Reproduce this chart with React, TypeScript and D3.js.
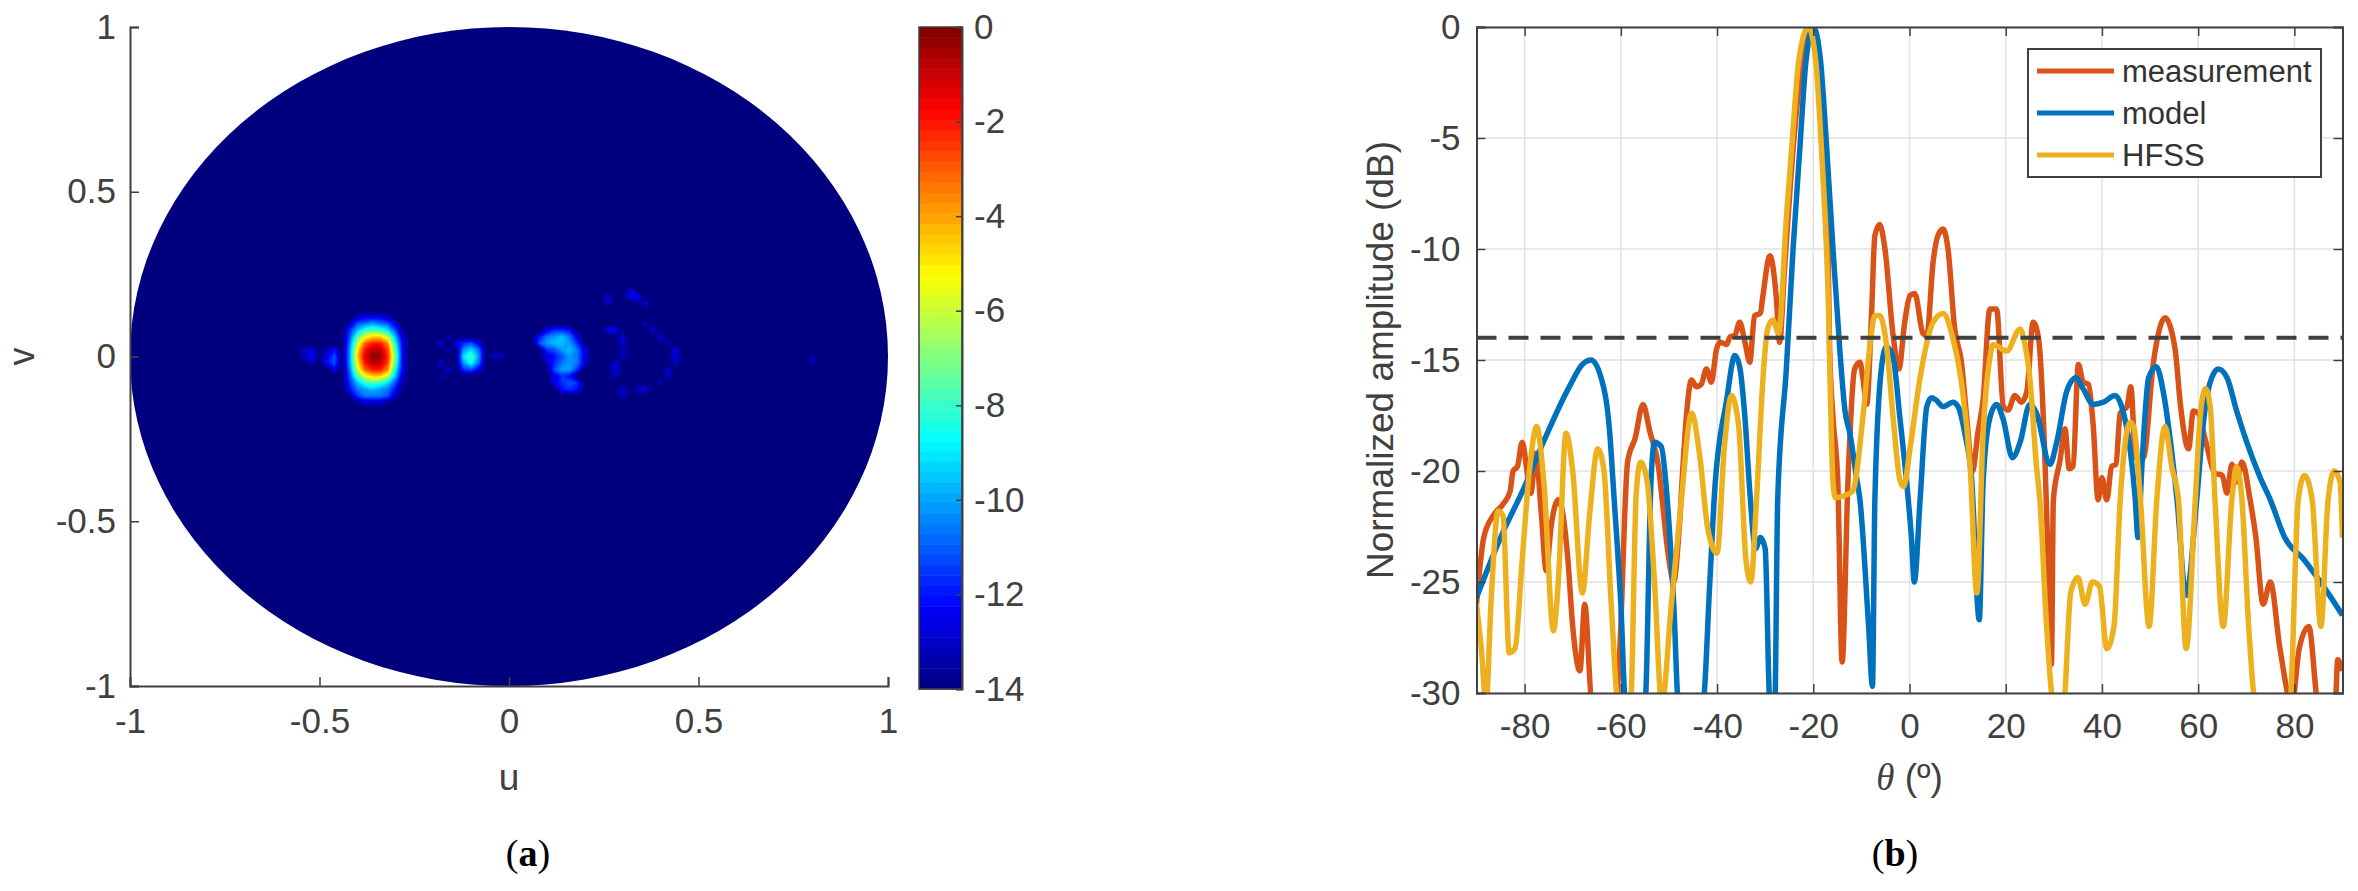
import React, { useEffect, useRef } from 'react';
import * as d3 from 'd3';

// pattern cuts: theta (deg), amplitude (dB)
const measurement: [number, number][] = [
  [-90, -26], [-88.5, -23], [-86.5, -22], [-84.5, -21.5], [-83, -20.9], [-82.4, -20], [-81.5, -19.8], [-80.5, -18.7], [-79.5, -20], [-78.7, -21], [-77.7, -19.2], [-76.5, -22], [-75.5, -24.5], [-74.5, -22.5], [-73, -21.3], [-72, -22], [-71, -24], [-70, -27], [-68.5, -29], [-67.5, -26], [-66, -30.5],
  [-61.5, -31], [-60, -27], [-59.2, -22], [-58.6, -19.6], [-57, -18.5], [-55.4, -17], [-54, -18.2], [-52, -20.1], [-51.6, -20.9], [-50, -24], [-49, -25], [-48, -23], [-47, -19.5], [-46.4, -17.6], [-45.3, -15.9], [-44.3, -16.2], [-43.3, -16.1], [-42.2, -15.4], [-41.2, -16], [-40.1, -14.5], [-39.4, -14.2], [-38, -14.3], [-37.3, -13.95], [-36.3, -13.9], [-35.3, -13.3], [-34.2, -14.2], [-33.2, -15.1], [-32.2, -13], [-31, -12.9], [-30.5, -12.15], [-29, -10.3], [-27.7, -12.15], [-27, -14.2],
  [-26, -11], [-24, -5], [-22, -1], [-20.5, 0], [-19, -1], [-18, -4], [-17, -9], [-16.6, -14.5], [-15.9, -17.6], [-14.9, -20.5], [-14, -28.6], [-12.8, -20.5], [-11.4, -15.4], [-10.3, -15.1], [-9.7, -15.8], [-8.9, -17], [-7.9, -13], [-7.2, -9.4], [-6.2, -8.9], [-5.1, -10], [-3.4, -13.9], [-2.2, -15.4], [-1, -13.3], [0.1, -12.1], [1.1, -12], [2.8, -13.8], [3.6, -13.9], [4.9, -10.6], [5.9, -9.4], [7, -9.1], [8, -10], [9.4, -13.6], [10.8, -15.1], [11.9, -17.6], [13.1, -20], [14.2, -18.3], [15.3, -16.8], [16.7, -12.7], [18.1, -12.7], [19.5, -17.1], [20.5, -17.25], [21.9, -16.6], [23.3, -16.9], [24.4, -16.4], [25.7, -13.3], [26.8, -14], [28.2, -19.8], [28.8, -24], [29.5, -28.7], [29.9, -21.3], [31.3, -19.5], [32.3, -18.1], [33.2, -19.9], [34, -19.8], [35.1, -15.2], [36.1, -16], [37.2, -16.1], [38.2, -18], [39.2, -21.3], [40, -20.3], [41, -21.3], [42, -19.8], [42.9, -19.7], [43.8, -17.4], [45.2, -17.1], [46, -16.2], [47, -19.4], [48.6, -19.4], [50.7, -15.1], [53.1, -13.1], [55.2, -14.5], [56.3, -17], [58, -19], [59, -17.3], [60, -17.4], [61.5, -18.6], [63.5, -20.1], [65, -20.2], [66, -21], [67, -19.7], [68, -20.5], [69.1, -19.6], [70.8, -21.3], [72, -23], [73.5, -26], [75, -25], [77, -28], [79.5, -30.5], [81, -28], [83, -27], [85, -30.5], [88.5, -30.5], [89, -28.5], [90, -29],
];
const model: [number, number][] = [
  [-90, -25.7], [-85, -23], [-80, -20.7], [-75.9, -18.6], [-70.7, -16.2], [-68, -15.2], [-66.2, -15], [-64.1, -15.8], [-62.3, -18.3], [-61.5, -20.9], [-60, -26], [-59, -30.5], [-55, -30.5], [-53.7, -20.3], [-53, -18.7], [-51.6, -18.9], [-50.5, -20.9], [-49, -26], [-48, -30.5], [-43, -30.5], [-41.5, -25], [-40.5, -20.9], [-38, -16.8], [-36.3, -14.8], [-35.3, -15.3], [-34.2, -17.6], [-33.2, -20.9], [-32, -23.5], [-31, -23], [-30, -23.5], [-29, -30.5], [-28, -30.5], [-27.4, -21.3], [-25.6, -15.4], [-24.2, -10], [-22.8, -5.5], [-21.5, -1.5], [-20, 0], [-18.5, -1.5], [-17.2, -5.5], [-15.9, -10], [-14.5, -14.5], [-13.4, -17.3], [-12.4, -18.3], [-11, -20.3], [-10.3, -21.3], [-8.5, -27], [-7.7, -29.7], [-7.2, -21.3], [-5.8, -15.3], [-4.8, -14.4], [-3.4, -14.9], [-2, -17.6], [-0.6, -20.5], [0.4, -23], [1, -25], [2.2, -21.3], [3.6, -17.1], [4.6, -16.7], [5.5, -16.8], [7, -17.1], [9, -16.9], [10.1, -17.1], [11.5, -18.3], [12.9, -20.3], [14.5, -26.7], [15.3, -20.5], [16.7, -17.6], [18.1, -17], [19.5, -17.7], [21.4, -19.4], [23, -18.7], [25, -17], [26.4, -17.4], [29.2, -19.7], [30.6, -18.7], [32.7, -16.4], [34.6, -15.8], [36.1, -16.3], [38.2, -17], [40.3, -16.9], [42.7, -16.6], [44.1, -17.1], [45.9, -19.1], [46.9, -21.2], [47.5, -23], [48.3, -19.8], [49.7, -15.8], [51.3, -15.3], [52.8, -16.5], [54.2, -18.6], [55.6, -21.3], [57.5, -25.6], [59.7, -21.3], [61.1, -17.8], [62.5, -16], [64.2, -15.4], [66, -15.8], [68, -17.3], [70.1, -18.7], [72.9, -20.3], [75, -21.3], [78, -23], [82, -24], [87, -25.5], [90, -26.5],
];
const hfss: [number, number][] = [
  [-90, -26], [-89, -28], [-88, -30.5], [-87, -26], [-85.5, -21.8], [-84.5, -22], [-83.2, -28.2], [-82, -28], [-80.5, -24], [-79, -20], [-77.5, -18], [-76, -20.5], [-74, -27.2], [-73, -25], [-71.4, -18.3], [-70, -20], [-68, -25.5], [-66.5, -22], [-64.8, -19], [-63.5, -20], [-62, -26], [-60.5, -30.5], [-58, -30.5], [-56.8, -21], [-55.9, -19.6], [-54.5, -20.5], [-53, -25], [-51.5, -30.5], [-49.5, -26], [-47.5, -21.5], [-45.3, -17.4], [-43.5, -19.5], [-42, -22.5], [-40, -23.7], [-38.5, -19], [-37, -16.6], [-35.5, -18], [-34, -24], [-33, -25], [-31.8, -21.3], [-30.5, -16], [-29.5, -13.6], [-28.4, -13.2], [-27.2, -13.8], [-25.6, -8.6], [-24.5, -5.5], [-23, -1.5], [-21, 0], [-19.5, -1.5], [-18.3, -5.5], [-17, -11.5], [-15.9, -20.5], [-15.4, -21.2], [-13.4, -21.1], [-11.8, -20.9], [-9.7, -17.6], [-8.2, -14.3], [-7.2, -13], [-6.2, -13], [-4.8, -14.3], [-3.4, -17.6], [-2, -20.4], [-1.2, -20.7], [0.1, -19], [2.2, -15.8], [4.9, -13.3], [7, -12.9], [9, -14], [10.8, -16], [12.6, -19.8], [14, -25.5], [15.3, -18.3], [16.7, -14.9], [17.4, -14.3], [20.2, -14.6], [23, -13.6], [24, -14.3], [25, -15.8], [26.4, -19.8], [27.1, -21.3], [28.5, -27], [30, -30.5], [32, -30.5], [33.5, -25.5], [35, -24.8], [36.5, -26], [38, -25], [39.5, -25.2], [41, -28], [42.5, -27], [43.8, -21.3], [45.9, -17.8], [46.6, -18], [48, -21.3], [49.8, -27], [51.4, -21.3], [53.1, -18], [54.5, -19.8], [55.9, -21.3], [57.5, -28], [59.4, -21.3], [60.4, -17.6], [61.5, -16.3], [62.5, -17.1], [63.5, -21.3], [65.2, -27], [67, -21.3], [68, -19.8], [69.1, -21.3], [70.5, -27], [72, -30.5], [79, -30.5], [80.8, -21.3], [82.1, -20.2], [83.7, -21.3], [85.5, -27], [87, -21.3], [88.3, -20], [89.5, -20.5], [90, -23],
];

const thetaTicks = [-80, -60, -40, -20, 0, 20, 40, 60, 80];
const ampTicks = [0, -5, -10, -15, -20, -25, -30];
const uvTicks = [-1, -0.5, 0, 0.5, 1];
const barTicks = [0, -2, -4, -6, -8, -10, -12, -14];
const threshold = -14;
const seriesNames = ['measurement', 'model', 'HFSS'];
const seriesColors = ['#d95319', '#0072bd', '#edb120'];

// grid of the visible lobes, in dB; all other cells sit at the floor
const gridU = d3.range(-0.56, 0.86, 0.02);
const gridV = d3.range(0.22, -0.22, -0.02);
// main lobe rows, columns at mainU
const mainU = [-0.42, -0.4, -0.38, -0.36, -0.34, -0.32, -0.3, -0.28];
const mainRows: [number, number[]][] = [
  [0.12, [-14, -13, -12.5, -12.5, -12.5, -13, -14, -14]],
  [0.1, [-13, -11, -10.5, -10, -10.5, -11, -12.5, -14]],
  [0.08, [-11.5, -9.5, -8, -7.5, -8, -9, -11, -13.5]],
  [0.06, [-11, -7.5, -5.5, -4.5, -4.5, -6, -9.5, -13]],
  [0.04, [-10.5, -6, -3, -2, -2, -3.5, -8.5, -12.5]],
  [0.02, [-10, -5, -1.8, -0.7, -0.7, -2.5, -7.5, -12.5]],
  [0, [-10, -4.5, -1.2, -0.1, -0.3, -2.2, -7, -12.5]],
  [-0.02, [-10, -5, -1.8, -0.7, -0.7, -2.5, -7.5, -12.5]],
  [-0.04, [-10.5, -6, -3, -2, -2, -3.5, -8.5, -12.5]],
  [-0.06, [-11, -7.5, -5.5, -4.5, -4.5, -6, -9.5, -13]],
  [-0.08, [-11.5, -9.5, -8, -7.5, -8, -9, -11, -13.5]],
  [-0.1, [-12, -10.5, -10, -9.5, -10, -10.5, -12, -14]],
  [-0.12, [-13.5, -11.5, -10.5, -10.5, -10.5, -11, -13, -14]],
  [-0.14, [-14, -13.5, -13, -13, -13, -13.5, -14, -14]],
];
// [u, v, dB] for the smaller lobes
const sideCells: [number, number, number][] = [
  [-0.54, 0.02, -13], [-0.52, 0.02, -12.5], [-0.52, 0, -12], [-0.54, 0, -13], [-0.52, -0.02, -13], [-0.48, 0.02, -13], [-0.46, 0.02, -12], [-0.46, 0, -11], [-0.46, -0.02, -11], [-0.48, 0, -12.5], [-0.48, -0.02, -12], [-0.46, -0.04, -12.5],
  [-0.14, 0.04, -12.5], [-0.12, 0.04, -11.5], [-0.1, 0.04, -11], [-0.08, 0.04, -12.5], [-0.12, 0.02, -10], [-0.1, 0.02, -9], [-0.08, 0.02, -10.5], [-0.12, 0, -9], [-0.1, 0, -7.5], [-0.08, 0, -10], [-0.12, -0.02, -10], [-0.1, -0.02, -8.5], [-0.08, -0.02, -10.5], [-0.12, -0.04, -11.5], [-0.1, -0.04, -11], [-0.08, -0.04, -12.5],
  [-0.18, 0.04, -12.5], [-0.16, 0.06, -13], [-0.16, 0.02, -13], [-0.18, -0.02, -12.5], [-0.16, -0.04, -12.5], [-0.18, -0.06, -13],
  [-0.02, 0, -13], [-0.04, 0, -13],
  [0.1, 0.08, -12.5], [0.12, 0.08, -11.5], [0.14, 0.08, -11.5], [0.16, 0.08, -12],
  [0.08, 0.06, -12], [0.1, 0.06, -10.5], [0.12, 0.06, -10], [0.14, 0.06, -9.5], [0.16, 0.06, -10.5], [0.18, 0.06, -12.5],
  [0.08, 0.04, -11], [0.1, 0.04, -10], [0.12, 0.04, -9.5], [0.14, 0.04, -9.5], [0.16, 0.04, -10], [0.18, 0.04, -11.5],
  [0.1, 0.02, -11.5], [0.12, 0.02, -11], [0.14, 0.02, -10], [0.16, 0.02, -9.5], [0.18, 0.02, -10.5], [0.2, 0.02, -12.5],
  [0.1, 0, -12.5], [0.12, 0, -12], [0.14, 0, -11], [0.16, 0, -10], [0.18, 0, -10.5], [0.2, 0, -12.5],
  [0.1, -0.02, -13], [0.12, -0.02, -11.5], [0.14, -0.02, -10.5], [0.16, -0.02, -10], [0.18, -0.02, -10.5], [0.2, -0.02, -12.5],
  [0.12, -0.04, -11], [0.14, -0.04, -10], [0.16, -0.04, -10], [0.18, -0.04, -11.5],
  [0.12, -0.06, -12.5], [0.14, -0.06, -11.5], [0.16, -0.06, -12],
  [0.12, -0.08, -12.5], [0.14, -0.08, -11.5], [0.16, -0.08, -11], [0.18, -0.08, -11.5],
  [0.14, -0.1, -12], [0.16, -0.1, -11.5], [0.18, -0.1, -12],
  [0.26, 0.18, -12.5], [0.26, 0.16, -13], [0.32, 0.2, -12.5], [0.34, 0.18, -12], [0.32, 0.18, -12.5], [0.36, 0.16, -12.5],
  [0.26, 0.08, -12.5], [0.28, 0.08, -12], [0.3, 0.06, -12.5], [0.3, 0.04, -13], [0.3, 0.02, -13], [0.29, 0, -13], [0.28, -0.02, -12.5], [0.28, -0.04, -12.5], [0.28, -0.06, -13], [0.3, -0.1, -12.5], [0.3, -0.12, -13],
  [0.36, 0.1, -13], [0.38, 0.08, -12.5], [0.4, 0.06, -12.5], [0.42, 0.04, -13], [0.44, 0.02, -12.5], [0.44, 0, -12.5], [0.44, -0.02, -13], [0.42, -0.04, -12.5], [0.42, -0.06, -13], [0.4, -0.08, -13], [0.36, -0.1, -12.5], [0.34, -0.1, -13],
  [0.8, 0, -13.2], [0.8, -0.02, -13.2],
];

const jetStops = [
  [0, '#00007f'], [0.125, '#0000ff'], [0.375, '#00ffff'], [0.625, '#ffff00'], [0.875, '#ff0000'], [1, '#7f0000'],
] as const;
const jet = d3.scaleLinear<string>().domain(jetStops.map(d => d[0])).range(jetStops.map(d => d[1])).clamp(true);
const colorOf = (db: number) => jet((db - threshold) / -threshold);

const FONT = '"Liberation Sans", Arial, sans-serif';
const TEXT = '#404040';

const App: React.FC = () => {
  const svgRef = useRef<SVGSVGElement | null>(null);

  useEffect(() => {
    if (!svgRef.current) return;
    const svg = d3.select(svgRef.current);
    svg.selectAll('*').remove();

    const styleAxis = (g: d3.Selection<SVGGElement, unknown, null, undefined>) => {
      g.selectAll('text').attr('font-family', FONT).attr('font-size', 35).attr('fill', TEXT);
      g.selectAll('line').attr('stroke', TEXT).attr('stroke-width', 1.5);
      g.selectAll('path').attr('stroke', TEXT).attr('stroke-width', 2);
    };

    // (a) uv map
    const uScale = d3.scaleLinear().domain([-1, 1]).range([130, 888]);
    const vScale = d3.scaleLinear().domain([-1, 1]).range([686, 27]);
    const left = svg.append('g');

    left.append('ellipse')
      .attr('cx', uScale(0)).attr('cy', vScale(0))
      .attr('rx', uScale(1) - uScale(0)).attr('ry', vScale(-1) - vScale(0))
      .attr('fill', colorOf(threshold));

    const grid = new Array(gridU.length * gridV.length).fill(threshold);
    const setCell = (u: number, v: number, db: number) => {
      const i = Math.round((u - gridU[0]) / 0.02);
      const j = Math.round((gridV[0] - v) / 0.02);
      grid[j * gridU.length + i] = db;
    };
    mainRows.forEach(([v, row]) => row.forEach((db, k) => setCell(mainU[k], v, db)));
    sideCells.forEach(([u, v, db]) => setCell(u, v, db));

    const levels = d3.range(-13.75, 0.01, 0.25);
    const contours = d3.contours().size([gridU.length, gridV.length]).thresholds(levels)(grid);
    const toPx = d3.geoTransform({
      point(x, y) {
        this.stream.point(uScale(gridU[0] + (x - 0.5) * 0.02), vScale(gridV[0] - (y - 0.5) * 0.02));
      },
    });
    left.append('g').selectAll('path').data(contours).join('path')
      .attr('d', d => d3.geoPath(toPx)(d) as string)
      .attr('fill', d => colorOf(d.value));

    left.append('g').attr('transform', `translate(0,${vScale(-1)})`)
      .call(d3.axisBottom(uScale).tickValues(uvTicks).tickSize(-9).tickPadding(22).tickFormat(d => String(d)))
      .call(styleAxis);
    left.append('g').attr('transform', `translate(${uScale(-1)},0)`)
      .call(d3.axisLeft(vScale).tickValues(uvTicks).tickSize(-9).tickPadding(14).tickFormat(d => String(d)))
      .call(styleAxis);
    left.append('text').attr('x', uScale(0)).attr('y', 790).attr('text-anchor', 'middle')
      .attr('font-family', FONT).attr('font-size', 37).attr('fill', TEXT).text('u');
    left.append('text').attr('transform', `translate(34,${vScale(0)}) rotate(-90)`).attr('text-anchor', 'middle')
      .attr('font-family', FONT).attr('font-size', 36).attr('fill', TEXT).text('v');

    // colorbar
    const barScale = d3.scaleLinear().domain([-14, 0]).range([689, 27]);
    const barSteps = d3.range(-14, 0, 14 / 64);
    const bar = svg.append('g');
    bar.selectAll('rect').data(barSteps).join('rect')
      .attr('x', 919).attr('width', 43)
      .attr('y', d => barScale(d + 14 / 64))
      .attr('height', d => barScale(d) - barScale(d + 14 / 64) + 0.5)
      .attr('fill', d => colorOf(d + 7 / 64));
    bar.append('rect').attr('x', 919).attr('y', 27).attr('width', 43).attr('height', 662)
      .attr('fill', 'none').attr('stroke', TEXT).attr('stroke-width', 1.5);
    bar.append('g').attr('transform', 'translate(962,0)')
      .call(d3.axisRight(barScale).tickValues(barTicks).tickSize(-6).tickPadding(12).tickFormat(d => String(d)))
      .call(styleAxis);

    // (b) cuts
    const xScale = d3.scaleLinear().domain([-90, 90]).range([1476.5, 2342.5]);
    const yScale = d3.scaleLinear().domain([-30, 0]).range([693, 27]);
    const right = svg.append('g');
    svg.append('defs').append('clipPath').attr('id', 'plot-clip').append('rect')
      .attr('x', 1476.5).attr('y', 27).attr('width', 866).attr('height', 666);

    right.append('g').selectAll('line').data(thetaTicks).join('line')
      .attr('x1', d => xScale(d)).attr('x2', d => xScale(d)).attr('y1', 27).attr('y2', 693)
      .attr('stroke', '#e2e2e2').attr('stroke-width', 1.5);
    right.append('g').selectAll('line').data(ampTicks).join('line')
      .attr('y1', d => yScale(d)).attr('y2', d => yScale(d)).attr('x1', 1476.5).attr('x2', 2342.5)
      .attr('stroke', '#e2e2e2').attr('stroke-width', 1.5);

    const line = d3.line<[number, number]>().x(d => xScale(d[0])).y(d => yScale(d[1])).curve(d3.curveMonotoneX);
    const curves = right.append('g').attr('clip-path', 'url(#plot-clip)');
    [measurement, model, hfss].forEach((s, i) => {
      curves.append('path').attr('d', line(s)).attr('fill', 'none')
        .attr('stroke', seriesColors[i]).attr('stroke-width', 5.5).attr('stroke-linejoin', 'round');
    });
    right.append('line')
      .attr('x1', xScale(-90)).attr('x2', xScale(90)).attr('y1', yScale(-14)).attr('y2', yScale(-14))
      .attr('stroke', '#404040').attr('stroke-width', 4).attr('stroke-dasharray', '20 12');

    right.append('g').attr('transform', `translate(0,${yScale(-30)})`)
      .call(d3.axisBottom(xScale).tickValues(thetaTicks).tickSize(-9).tickPadding(20).tickFormat(d => String(d)))
      .call(styleAxis);
    right.append('g').attr('transform', `translate(0,${yScale(0)})`)
      .call(d3.axisTop(xScale).tickValues(thetaTicks).tickSize(-9).tickFormat(() => ''))
      .call(styleAxis);
    right.append('g').attr('transform', `translate(${xScale(-90)},0)`)
      .call(d3.axisLeft(yScale).tickValues(ampTicks).tickSize(-9).tickPadding(16).tickFormat(d => String(d)))
      .call(styleAxis);
    right.append('g').attr('transform', `translate(${xScale(90)},0)`)
      .call(d3.axisRight(yScale).tickValues(ampTicks).tickSize(-9).tickFormat(() => ''))
      .call(styleAxis);

    right.append('text').attr('transform', `translate(1393,${yScale(-15)}) rotate(-90)`)
      .attr('text-anchor', 'middle').attr('font-family', FONT).attr('font-size', 37).attr('fill', TEXT)
      .text('Normalized amplitude (dB)');
    const xLabel = right.append('text').attr('x', xScale(0)).attr('y', 790).attr('text-anchor', 'middle')
      .attr('font-family', FONT).attr('font-size', 37).attr('fill', TEXT);
    xLabel.append('tspan').attr('font-style', 'italic').attr('font-family', '"Liberation Serif", serif').text('θ');
    xLabel.append('tspan').text(' (º)');

    // legend
    const legend = right.append('g');
    legend.append('rect').attr('x', 2028).attr('y', 49).attr('width', 293).attr('height', 128)
      .attr('fill', '#fff').attr('stroke', TEXT).attr('stroke-width', 2);
    seriesNames.forEach((name, i) => {
      const y = 71 + i * 42;
      legend.append('line').attr('x1', 2037).attr('x2', 2114).attr('y1', y).attr('y2', y)
        .attr('stroke', seriesColors[i]).attr('stroke-width', 5);
      legend.append('text').attr('x', 2122).attr('y', y + 11)
        .attr('font-family', FONT).attr('font-size', 31).attr('fill', '#333').text(name);
    });

    // captions
    [['a', 528], ['b', 1895]].forEach(([c, x]) => {
      const t = svg.append('text').attr('x', x as number).attr('y', 866).attr('text-anchor', 'middle')
        .attr('font-family', '"Liberation Serif", serif').attr('font-size', 38).attr('fill', '#000');
      t.append('tspan').text('(');
      t.append('tspan').attr('font-weight', 'bold').text(c as string);
      t.append('tspan').text(')');
    });
  }, []);

  return (
    <svg ref={svgRef} width={2358} height={891} style={{ position: 'absolute', left: 0, top: 0 }}></svg>
  );
};

export default App;
